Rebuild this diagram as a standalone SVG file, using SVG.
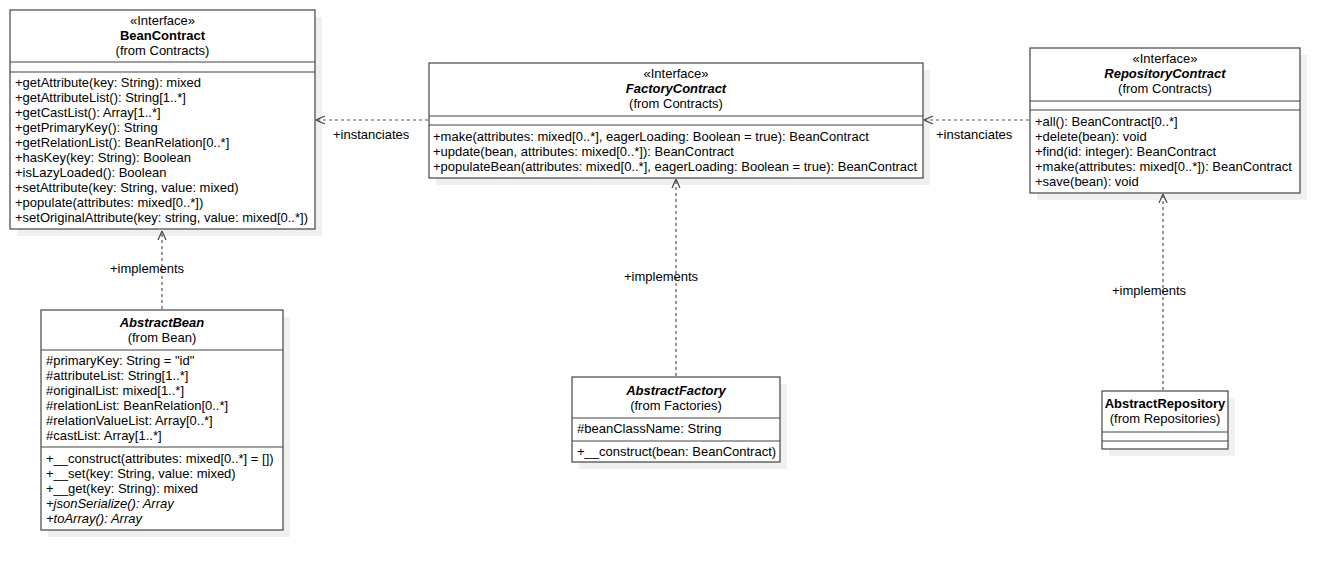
<svg xmlns="http://www.w3.org/2000/svg" width="1339" height="570" viewBox="0 0 1339 570">
<defs>
<style>
text{font-family:"Liberation Sans",Arial,sans-serif;font-size:13px;fill:#000}
.c{text-anchor:middle}
.b{font-weight:bold}
.i{font-style:italic}
.box{fill:#fff;stroke:#444;stroke-width:1.2}
.sh{fill:#f0f0f0;stroke:none}
.sep{stroke:#444;stroke-width:1.2}
.dep{fill:none;stroke:#555;stroke-width:1.2;stroke-dasharray:3,3}
</style>
<marker id="open" viewBox="0 0 10 10" refX="10" refY="5" markerWidth="10" markerHeight="10" markerUnits="userSpaceOnUse" orient="auto">
<path d="M1,1 L10,5 L1,9" fill="none" stroke="#444" stroke-width="1.2"/>
</marker>
</defs>
<rect width="1339" height="570" fill="#fff"/>

<g id="BeanContract">
<rect class="sh" x="17" y="17" width="305" height="219"/>
<rect class="box" x="10" y="10" width="305" height="219"/>
<line class="sep" x1="10" y1="62" x2="315" y2="62"/>
<line class="sep" x1="10" y1="72" x2="315" y2="72"/>
<text class="c" x="162.5" y="25">«Interface»</text>
<text class="c b" x="162.5" y="40">BeanContract</text>
<text class="c" x="162.5" y="55">(from Contracts)</text>
<text x="15" y="87">+getAttribute(key: String): mixed</text>
<text x="15" y="102">+getAttributeList(): String[1..*]</text>
<text x="15" y="117">+getCastList(): Array[1..*]</text>
<text x="15" y="132">+getPrimaryKey(): String</text>
<text x="15" y="147">+getRelationList(): BeanRelation[0..*]</text>
<text x="15" y="162">+hasKey(key: String): Boolean</text>
<text x="15" y="177">+isLazyLoaded(): Boolean</text>
<text x="15" y="192">+setAttribute(key: String, value: mixed)</text>
<text x="15" y="207">+populate(attributes: mixed[0..*])</text>
<text x="15" y="222">+setOriginalAttribute(key: string, value: mixed[0..*])</text>
</g>

<g id="FactoryContract">
<rect class="sh" x="436" y="70" width="494" height="115"/>
<rect class="box" x="429" y="63" width="494" height="115"/>
<line class="sep" x1="429" y1="116" x2="923" y2="116"/>
<line class="sep" x1="429" y1="125" x2="923" y2="125"/>
<text class="c" x="676" y="78">«Interface»</text>
<text class="c b i" x="676" y="93">FactoryContract</text>
<text class="c" x="676" y="108">(from Contracts)</text>
<text x="433" y="141">+make(attributes: mixed[0..*], eagerLoading: Boolean = true): BeanContract</text>
<text x="433" y="156">+update(bean, attributes: mixed[0..*]): BeanContract</text>
<text x="433" y="171">+populateBean(attributes: mixed[0..*], eagerLoading: Boolean = true): BeanContract</text>
</g>

<g id="RepositoryContract">
<rect class="sh" x="1037" y="55" width="270" height="145"/>
<rect class="box" x="1030" y="48" width="270" height="145"/>
<line class="sep" x1="1030" y1="101" x2="1300" y2="101"/>
<line class="sep" x1="1030" y1="110" x2="1300" y2="110"/>
<text class="c" x="1165" y="63">«Interface»</text>
<text class="c b i" x="1165" y="78">RepositoryContract</text>
<text class="c" x="1165" y="93">(from Contracts)</text>
<text x="1035" y="126">+all(): BeanContract[0..*]</text>
<text x="1035" y="141">+delete(bean): void</text>
<text x="1035" y="156">+find(id: integer): BeanContract</text>
<text x="1035" y="171">+make(attributes: mixed[0..*]): BeanContract</text>
<text x="1035" y="186">+save(bean): void</text>
</g>

<g id="AbstractBean">
<rect class="sh" x="48" y="317" width="242" height="220"/>
<rect class="box" x="41" y="310" width="242" height="220"/>
<line class="sep" x1="41" y1="350" x2="283" y2="350"/>
<line class="sep" x1="41" y1="447" x2="283" y2="447"/>
<text class="c b i" x="162" y="327">AbstractBean</text>
<text class="c" x="162" y="342">(from Bean)</text>
<text x="46" y="365">#primaryKey: String = "id"</text>
<text x="46" y="380">#attributeList: String[1..*]</text>
<text x="46" y="395">#originalList: mixed[1..*]</text>
<text x="46" y="410">#relationList: BeanRelation[0..*]</text>
<text x="46" y="425">#relationValueList: Array[0..*]</text>
<text x="46" y="440">#castList: Array[1..*]</text>
<text x="46" y="463">+__construct(attributes: mixed[0..*] = [])</text>
<text x="46" y="478">+__set(key: String, value: mixed)</text>
<text x="46" y="493">+__get(key: String): mixed</text>
<text class="i" x="46" y="508">+jsonSerialize(): Array</text>
<text class="i" x="46" y="523">+toArray(): Array</text>
</g>

<g id="AbstractFactory">
<rect class="sh" x="579" y="384" width="208" height="85"/>
<rect class="box" x="572" y="377" width="208" height="85"/>
<line class="sep" x1="572" y1="418" x2="780" y2="418"/>
<line class="sep" x1="572" y1="441" x2="780" y2="441"/>
<text class="c b i" x="676" y="395">AbstractFactory</text>
<text class="c" x="676" y="410">(from Factories)</text>
<text x="577" y="433">#beanClassName: String</text>
<text x="577" y="456">+__construct(bean: BeanContract)</text>
</g>

<g id="AbstractRepository">
<rect class="sh" x="1109" y="398" width="126" height="58"/>
<rect class="box" x="1102" y="391" width="126" height="58"/>
<line class="sep" x1="1102" y1="432" x2="1228" y2="432"/>
<line class="sep" x1="1102" y1="441" x2="1228" y2="441"/>
<text class="c b" x="1165" y="408">AbstractRepository</text>
<text class="c" x="1165" y="423">(from Repositories)</text>
</g>

<g id="connectors">
<line class="dep" x1="428" y1="120" x2="316" y2="120" marker-end="url(#open)"/>
<text x="333" y="139">+instanciates</text>
<line class="dep" x1="1029" y1="120" x2="924" y2="120" marker-end="url(#open)"/>
<text x="936" y="139">+instanciates</text>
<line class="dep" x1="162" y1="309" x2="162" y2="231" marker-end="url(#open)"/>
<text x="110" y="273">+implements</text>
<line class="dep" x1="676" y1="376" x2="676" y2="179" marker-end="url(#open)"/>
<text x="624" y="281">+implements</text>
<line class="dep" x1="1163" y1="390" x2="1163" y2="194" marker-end="url(#open)"/>
<text x="1112" y="295">+implements</text>
</g>
</svg>
